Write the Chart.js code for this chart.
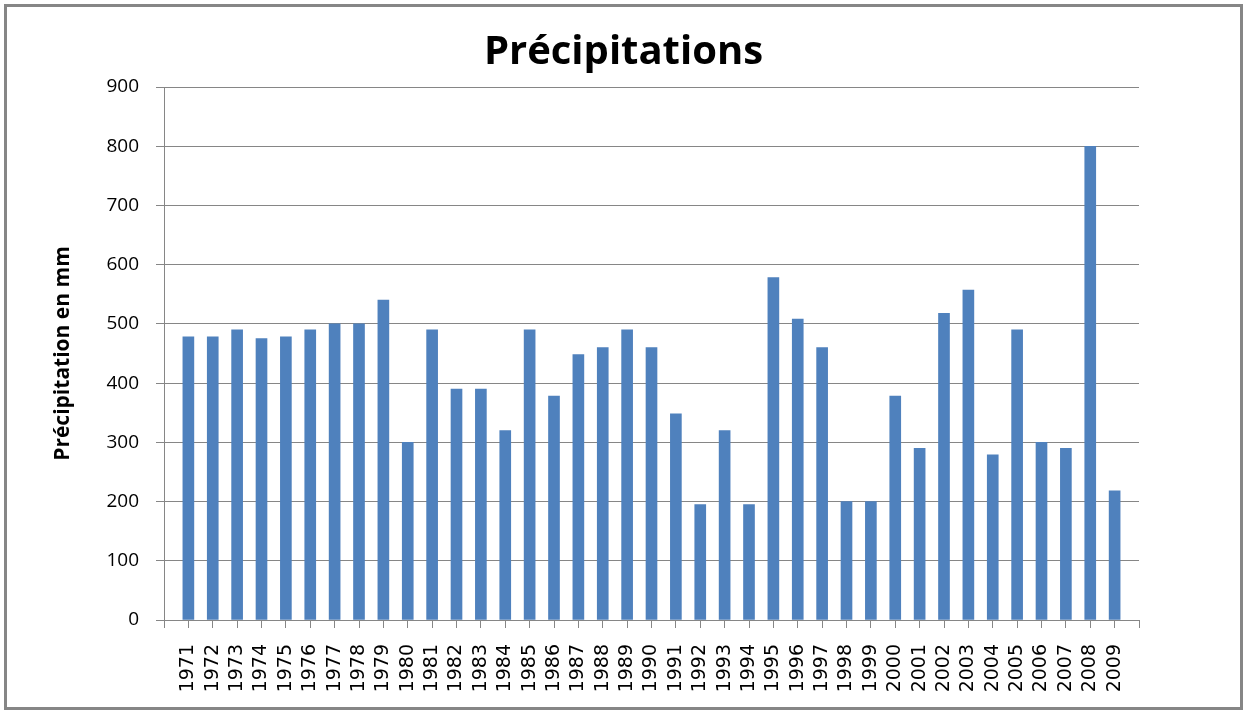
<!DOCTYPE html>
<html>
<head>
<meta charset="utf-8">
<script src="https://cdn.jsdelivr.net/npm/chart.js@4"></script>
<style>
  html, body { margin: 0; padding: 0; background: #fff; }
  #frame {
    position: absolute; left: 4px; top: 4px;
    width: 1239px; height: 706px;
    border: 3px solid #868686; box-sizing: border-box;
  }
  #wrap { position: absolute; left: 0; top: 0; width: 1233px; height: 700px; }
</style>
</head>
<body>
<div id="frame"><div id="wrap"><canvas id="rainChart"></canvas></div></div>
<script>
// Data
const years = [1971, 1972, 1973, 1974, 1975, 1976, 1977, 1978, 1979, 1980,
  1981, 1982, 1983, 1984, 1985, 1986, 1987, 1988, 1989, 1990,
  1991, 1992, 1993, 1994, 1995, 1996, 1997, 1998, 1999, 2000,
  2001, 2002, 2003, 2004, 2005, 2006, 2007, 2008, 2009];
const rainfall = [478, 478, 490, 475, 478, 490, 500, 500, 540, 300,
  490, 390, 390, 320, 490, 378, 448, 460, 490, 460,
  348, 195, 320, 195, 578, 508, 460, 200, 200, 378,
  290, 518, 557, 279, 490, 300, 290, 800, 218];
const yTicks = [0, 100, 200, 300, 400, 500, 600, 700, 800, 900];

const gridGrey = '#868686';
const barBlue = '#4F81BD';

const points = years.map((y, i) => ({ x: y, y: rainfall[i] }));

const ctx = document.getElementById('rainChart').getContext('2d');

const rainChart = new Chart(ctx, {
  type: 'bar',
  data: {
    datasets: [{
      label: 'Précipitations',
      data: points,
      backgroundColor: barBlue,
      barThickness: 11
    }]
  },
  options: {
    responsive: true,
    maintainAspectRatio: false,
    animation: false,
    layout: { padding: 0 },
    plugins: {
      legend: { display: false },
      tooltip: { enabled: false },
      title: {
        display: true,
        text: 'Précipitations',
        color: '#000',
        font: { family: 'Open Sans', size: 40, weight: 'bold', lineHeight: 1.2 },
        padding: { top: 22, bottom: 10 }
      }
    },
    scales: {
      x: {
        type: 'linear',
        offset: false,
        min: years[0] - 1,
        max: years[years.length - 1] + 1,
        afterFit: s => { s.height = 87; },
        afterBuildTicks: s => {
          s.ticks = [];
          for (let v = s.min; v <= s.max; v++) s.ticks.push({ value: v });
        },
        grid: {
          offset: false,
          drawOnChartArea: false,
          drawTicks: true,
          tickLength: 8,
          color: gridGrey
        },
        border: { color: gridGrey, width: 1 },
        ticks: {
          autoSkip: false,
          minRotation: 90,
          maxRotation: 90,
          padding: 16,
          color: '#000',
          font: { family: 'DejaVu Sans', size: 19 },
          callback: v => years.includes(v) ? String(v) : ''
        }
      },
      y: {
        min: yTicks[0],
        max: yTicks[yTicks.length - 1],
        afterFit: s => { s.width = 157; },
        afterBuildTicks: s => { s.ticks = yTicks.map(v => ({ value: v })); },
        grid: { color: gridGrey, tickLength: 8, lineWidth: 1 },
        border: { color: gridGrey, width: 1 },
        ticks: {
          padding: 17,
          color: '#000',
          font: { family: 'Open Sans', size: 19 }
        },
        title: {
          display: true,
          text: 'Précipitation en mm',
          color: '#000',
          font: { family: 'Open Sans', size: 21, weight: 'bold', lineHeight: 1.2 },
          padding: { top: 43, bottom: 0 }
        }
      },
      // empty right-hand spacer so the plot ends where it does in the picture
      spacer: {
        position: 'right',
        afterFit: s => { s.width = 101; },
        grid: { display: false },
        border: { display: false },
        ticks: { display: false }
      }
    }
  }
});
</script>
</body>
</html>
